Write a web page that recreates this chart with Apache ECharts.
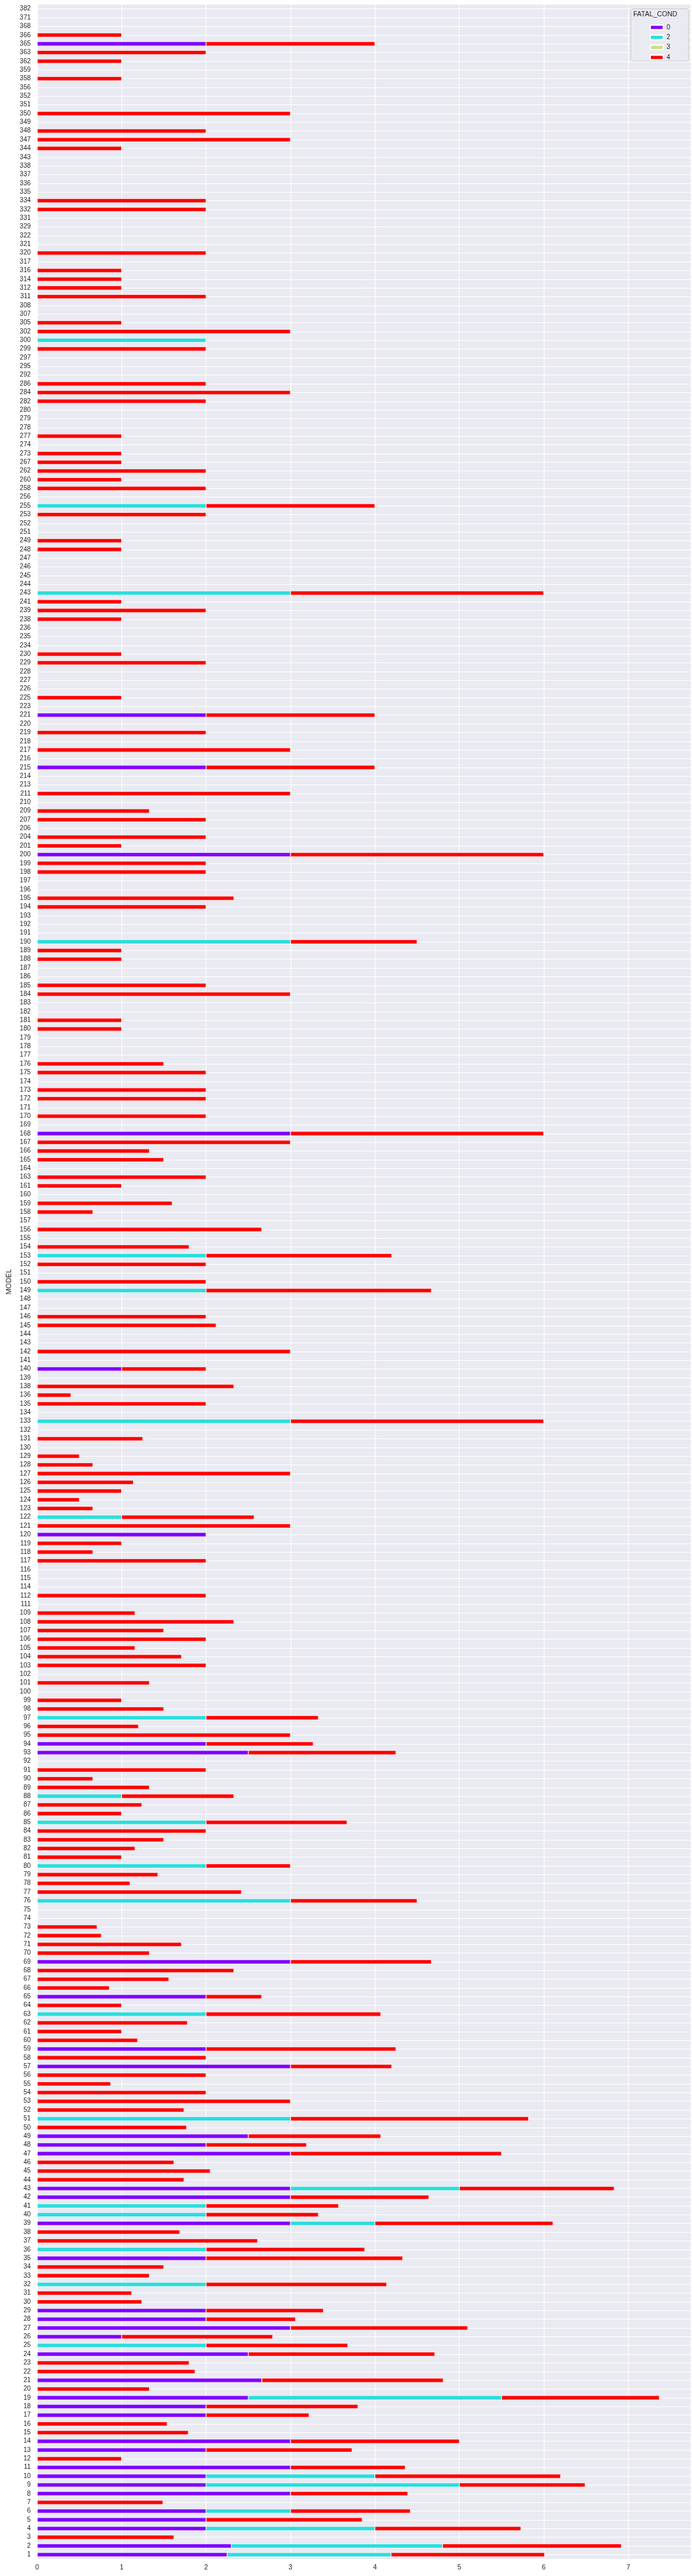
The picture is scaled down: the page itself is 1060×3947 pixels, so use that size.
<!DOCTYPE html>
<html>
<head>
<meta charset="utf-8">
<script src="https://cdn.jsdelivr.net/npm/echarts@6/dist/echarts.min.js"></script>
<style>html,body{margin:0;padding:0;background:#fff}#c{width:1060px;height:3947px}</style>
</head>
<body>
<div id="c"></div>
<script>
// MODEL categories, bottom to top
const models = [
  1,2,3,4,5,6,7,8,9,10,11,12,13,14,15,16,17,18,19,20,
  21,22,23,24,25,26,27,28,29,30,31,32,33,34,35,36,37,38,39,40,
  41,42,43,44,45,46,47,48,49,50,51,52,53,54,55,56,57,58,59,60,
  61,62,63,64,65,66,67,68,69,70,71,72,73,74,75,76,77,78,79,80,
  81,82,83,84,85,86,87,88,89,90,91,92,93,94,95,96,
  97,98,99,100,101,102,103,104,105,106,107,108,109,111,112,114,115,116,117,118,119,120,121,122,123,
  124,125,126,127,128,129,130,131,132,133,134,135,136,138,139,140,141,142,143,144,145,146,147,148,
  149,150,151,152,153,154,155,156,157,158,159,160,161,163,164,165,166,167,168,169,170,171,172,173,174,
  175,176,177,178,179,180,181,182,183,184,185,186,187,188,189,190,191,192,193,194,195,196,197,198,199,
  200,201,204,206,207,209,210,211,213,214,215,216,217,218,219,220,221,223,225,226,227,228,229,230,
  234,235,236,238,239,241,243,244,245,246,247,248,249,251,252,253,255,256,258,260,262,267,273,274,277,
  278,279,280,282,284,286,292,295,297,299,300,302,305,307,308,311,312,314,316,317,320,321,322,329,331,
  332,334,335,336,337,338,343,344,347,348,349,350,351,352,356,358,359,362,363,365,366,368,371,382
];

// FATAL_COND = 0  [model, value]
const cond0 = [
  [1,2.25],[2,2.3],[4,2],[5,2],[6,2],[8,3],[9,2],[10,2],[11,3],[13,2],[14,3],[17,2],[18,2],
  [19,2.5],[21,2.66],[24,2.5],[26,1],[27,3],[28,2],[29,2],[35,2],[39,3],[42,3],[43,3],[47,3],
  [48,2],[49,2.5],[57,3],[59,2],[65,2],[69,3],[93,2.5],[94,2],[120,2],[140,1],[168,3],[200,3],
  [215,2],[221,2],[365,2]
];
// FATAL_COND = 2
const cond2 = [
  [1,1.94],[2,2.5],[4,2],[6,1],[9,3],[10,2],[19,3],[25,2],[32,2],[36,2],[39,1],[40,2],[41,2],
  [43,2],[51,3],[63,2],[76,3],[80,2],[85,2],[88,1],[97,2],[122,1],[133,3],[149,2],[153,2],
  [190,3],[243,3],[255,2],[300,2]
];
// FATAL_COND = 3 (no visible bars)
const cond3 = [];
// FATAL_COND = 4
const cond4 = [
  [1,1.82],[2,2.12],[3,1.62],[4,1.73],[5,1.85],[6,1.42],[7,1.49],[8,1.39],[9,1.49],[10,2.2],
  [11,1.36],[12,1],[13,1.73],[14,2],[15,1.79],[16,1.54],[17,1.22],[18,1.8],[19,1.87],[20,1.33],
  [21,2.15],[22,1.87],[23,1.8],[24,2.21],[25,1.68],[26,1.79],[27,2.1],[28,1.06],[29,1.39],[30,1.24],
  [31,1.12],[32,2.14],[33,1.33],[34,1.5],[35,2.33],[36,1.88],[37,2.61],[38,1.69],[39,2.11],[40,1.33],
  [41,1.57],[42,1.64],[43,1.835],[44,1.74],[45,2.05],[46,1.62],[47,2.5],[48,1.19],[49,1.57],[50,1.77],
  [51,2.82],[52,1.74],[53,3],[54,2],[55,0.87],[56,2],[57,1.2],[58,2],[59,2.25],[60,1.19],
  [61,1],[62,1.78],[63,2.07],[64,1],[65,0.66],[66,0.855],[67,1.56],[68,2.33],[69,1.67],[70,1.33],
  [71,1.71],[72,0.76],[73,0.71],[76,1.5],[77,2.42],[78,1.1],[79,1.43],[80,1],
  [81,1],[82,1.16],[83,1.5],[84,2],[85,1.67],[86,1],[87,1.24],[88,1.33],[89,1.33],[90,0.66],
  [91,2],[93,1.75],[94,1.27],[95,3],[96,1.2],[97,1.33],[98,1.5],[99,1],[101,1.33],[103,2],
  [104,1.71],[105,1.16],[106,2],[107,1.5],[108,2.33],[109,1.16],[112,2],[117,2],[118,0.66],[119,1],
  [121,3],[122,1.57],[123,0.66],[124,0.5],[125,1],[126,1.14],[127,3],[128,0.66],[129,0.5],[131,1.25],
  [133,3],[135,2],[136,0.4],[138,2.33],[140,1],[142,3],[145,2.12],[146,2],[149,2.67],[150,2],
  [152,2],[153,2.2],[154,1.8],[156,2.66],[158,0.66],[159,1.6],[161,1],[163,2],[165,1.5],[166,1.33],
  [167,3],[168,3],[170,2],[172,2],[173,2],[175,2],[176,1.5],[180,1],[181,1],[184,3],
  [185,2],[188,1],[189,1],[190,1.5],[194,2],[195,2.33],[198,2],[199,2],[200,3],[201,1],
  [204,2],[207,2],[209,1.33],[211,3],[215,2],[217,3],[219,2],[221,2],[225,1],[229,2],
  [230,1],[238,1],[239,2],[241,1],[243,3],[248,1],[249,1],[253,2],[255,2],[258,2],
  [260,1],[262,2],[267,1],[273,1],[277,1],[282,2],[284,3],[286,2],[299,2],[302,3],
  [305,1],[311,2],[312,1],[314,1],[316,1],[320,2],[332,2],[334,2],[344,1],[347,3],
  [348,2],[350,3],[358,1],[362,1],[363,2],[365,2],[366,1]
];

const xTicksMax = 7.74;
const seriesNames = ['0', '2', '3', '4'];
const seriesColors = ['#8000ff', '#2adddd', '#d4dd80', '#ff0000'];

const cats = models.map(String);
function build(pairs) {
  const m = new Map(pairs.map(p => [String(p[0]), p[1]]));
  return cats.map(k => (m.has(k) ? m.get(k) : null));
}
const seriesData = [cond0, cond2, cond3, cond4].map(build);

const txt = '#262626';
const font = 'Liberation Sans, Arial, sans-serif';
const chart = echarts.init(document.getElementById('c'), null, { renderer: 'canvas' });
chart.setOption({
  animation: false,
  backgroundColor: '#ffffff',
  grid: { left: 50, right: 2, top: 7, bottom: 26, show: true, backgroundColor: '#EAEAF2', borderWidth: 0 },
  xAxis: {
    type: 'value', min: 0, max: xTicksMax, interval: 1,
    axisLine: { show: false }, axisTick: { show: false },
    axisLabel: { color: txt, fontSize: 10.5, fontFamily: font, margin: 8, showMaxLabel: false },
    splitLine: { show: true, lineStyle: { color: '#ffffff', width: 1 } }
  },
  yAxis: {
    type: 'category', data: cats,
    name: 'MODEL', nameLocation: 'middle', nameGap: 38, nameRotate: 90,
    nameTextStyle: { color: txt, fontSize: 11, fontFamily: font },
    axisLine: { show: false }, axisTick: { show: false, interval: 0, alignWithLabel: true },
    axisLabel: { color: txt, fontSize: 10, fontFamily: font, interval: 0, margin: 10 },
    splitLine: { show: true, interval: 0, alignWithLabel: true, lineStyle: { color: '#ffffff', width: 1 } }
  },
  legend: {
    orient: 'vertical', left: 990, top: 31, z: 20,
    itemWidth: 20, itemHeight: 7, itemGap: 3.3,
    icon: 'rect',
    textStyle: { color: txt, fontSize: 10, lineHeight: 12, fontFamily: font },
    data: seriesNames
  },
  graphic: [
    { type: 'rect', left: 966, top: 13, z: 5,
      shape: { width: 88, height: 80, r: 3 },
      style: { fill: '#EAEAF2', stroke: '#cccccc', lineWidth: 1 } },
    { type: 'text', left: 970, top: 17, z: 21,
      style: { text: 'FATAL_COND', fill: txt, fontSize: 10.5, fontFamily: font } }
  ],
  series: seriesNames.map((n, i) => ({
    name: n, type: 'bar', stack: 'total', data: seriesData[i],
    barWidth: '50%',
    itemStyle: { color: seriesColors[i], borderColor: '#ffffff', borderWidth: 0.6 },
    emphasis: { disabled: true }
  }))
});
</script>
</body>
</html>
